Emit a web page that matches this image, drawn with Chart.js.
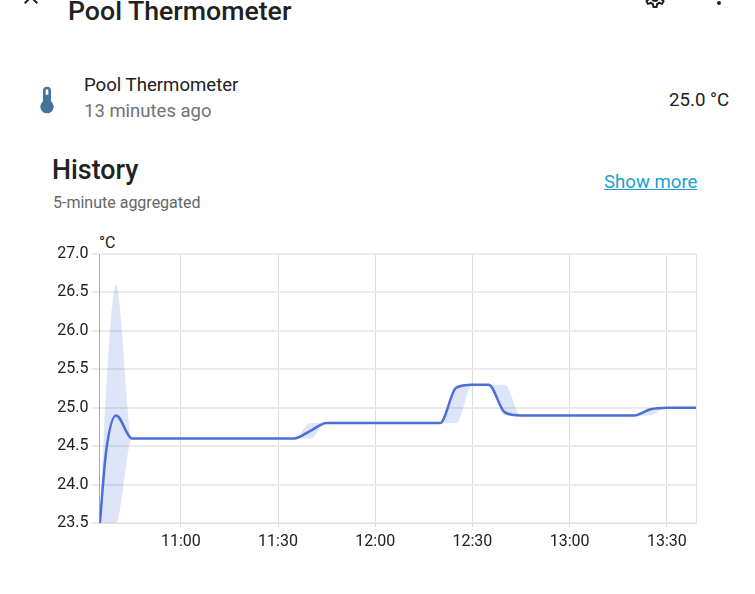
<!DOCTYPE html>
<html>
<head>
<meta charset="utf-8">
<script src="https://cdn.jsdelivr.net/npm/chart.js@4"></script>
<style>
  html, body { margin: 0; padding: 0; background: #fff; width: 755px; height: 594px; overflow: hidden; }
  body { font-family: Roboto, sans-serif; color: #212121; position: relative; }
  canvas { position: absolute; left: 0; top: 0; }
  .txt { position: absolute; white-space: nowrap; line-height: 1; }
  svg { position: absolute; }
</style>
</head>
<body>
<svg style="left:19px;top:-15px" width="24" height="24" viewBox="0 0 24 24"><path fill="#212121" d="M19,6.41L17.59,5L12,10.59L6.41,5L5,6.41L10.59,12L5,17.59L6.41,19L12,13.41L17.59,19L19,17.59L13.41,12L19,6.41Z"/></svg>
<svg style="left:643px;top:-14px" width="24" height="24" viewBox="0 0 24 24"><path fill="#212121" d="M12,8A4,4 0 0,1 16,12A4,4 0 0,1 12,16A4,4 0 0,1 8,12A4,4 0 0,1 12,8M12,10A2,2 0 0,0 10,12A2,2 0 0,0 12,14A2,2 0 0,0 14,12A2,2 0 0,0 12,10M10,22C9.75,22 9.54,21.82 9.5,21.58L9.13,18.93C8.5,18.68 7.96,18.34 7.44,17.94L4.95,18.95C4.73,19.03 4.46,18.95 4.34,18.73L2.34,15.27C2.21,15.05 2.27,14.78 2.46,14.63L4.57,12.97L4.5,12L4.57,11L2.46,9.37C2.27,9.22 2.21,8.95 2.34,8.73L4.34,5.27C4.46,5.05 4.73,4.96 4.95,5.05L7.44,6.05C7.96,5.66 8.5,5.32 9.13,5.07L9.5,2.42C9.54,2.18 9.75,2 10,2H14C14.25,2 14.46,2.18 14.5,2.42L14.87,5.07C15.5,5.32 16.04,5.66 16.56,6.05L19.05,5.05C19.27,4.96 19.54,5.05 19.66,5.27L21.66,8.73C21.79,8.95 21.73,9.22 21.54,9.37L19.43,11L19.5,12L19.43,13L21.54,14.63C21.73,14.78 21.79,15.05 21.66,15.27L19.66,18.73C19.54,18.95 19.27,19.04 19.05,18.95L16.56,17.95C16.04,18.34 15.5,18.68 14.87,18.93L14.5,21.58C14.46,21.82 14.25,22 14,22H10M11.25,4L10.88,6.61C9.68,6.86 8.62,7.5 7.85,8.39L5.44,7.35L4.69,8.65L6.8,10.2C6.4,11.37 6.4,12.64 6.8,13.8L4.68,15.36L5.43,16.66L7.86,15.62C8.63,16.5 9.68,17.14 10.87,17.38L11.24,20H12.76L13.13,17.39C14.32,17.14 15.37,16.5 16.14,15.62L18.57,16.66L19.32,15.36L17.2,13.81C17.6,12.64 17.6,11.37 17.2,10.2L19.31,8.65L18.56,7.35L16.15,8.39C15.38,7.5 14.32,6.86 13.12,6.62L12.75,4H11.25Z"/></svg>
<svg style="left:707px;top:-15px" width="24" height="24" viewBox="0 0 24 24"><path fill="#212121" d="M12,16A2,2 0 0,1 14,18A2,2 0 0,1 12,20A2,2 0 0,1 10,18A2,2 0 0,1 12,16M12,10A2,2 0 0,1 14,12A2,2 0 0,1 12,14A2,2 0 0,1 10,12A2,2 0 0,1 12,10M12,4A2,2 0 0,1 14,6A2,2 0 0,1 12,8A2,2 0 0,1 10,6A2,2 0 0,1 12,4Z"/></svg>
<svg style="left:31px;top:84px" width="32" height="32" viewBox="0 0 24 24"><path fill="#44739e" d="M15 13V5A3 3 0 0 0 9 5V13A5 5 0 1 0 15 13M12 4A1 1 0 0 1 13 5V8H11V5A1 1 0 0 1 12 4Z"/></svg>

<div class="txt" style="left:68px;top:-2px;font-size:26.7px;font-weight:500">Pool Thermometer</div>
<div class="txt" style="left:84px;top:76px;font-size:18.6px">Pool Thermometer</div>
<div class="txt" style="left:84px;top:102px;font-size:18.5px;color:#727272">13 minutes ago</div>
<div class="txt" style="left:669px;top:91px;font-size:18.7px">25.0 °C</div>
<div class="txt" style="left:52px;top:157px;font-size:26.8px;font-weight:500">History</div>
<div class="txt" style="left:53px;top:195px;font-size:16px;color:#666">5-minute aggregated</div>
<div class="txt" style="left:604px;top:173px;font-size:18.6px;color:#1a9fd0;text-decoration:underline">Show more</div>
<div class="txt" style="left:99px;top:235px;font-size:16px">°C</div>

<canvas id="history-chart" width="755" height="594"></canvas>

<script>
// 5-minute statistics (10:37 added to follow the steep first rise)
const TIMES = [
  "10:35", "10:37", "10:40", "10:45", "10:50", "10:55", "11:00", "11:05", "11:10", "11:15", "11:20",
  "11:25", "11:30", "11:35", "11:40", "11:45", "11:50", "11:55", "12:00", "12:05", "12:10",
  "12:15", "12:20", "12:25", "12:30", "12:35", "12:40", "12:45", "12:50", "12:55", "13:00",
  "13:05", "13:10", "13:15", "13:20", "13:25", "13:30", "13:35", "13:39",
];
const MEAN_VALUES = [
  23.5, 24.45, 24.9, 24.6, 24.6, 24.6, 24.6, 24.6, 24.6, 24.6, 24.6,
  24.6, 24.6, 24.6, 24.7, 24.8, 24.8, 24.8, 24.8, 24.8, 24.8,
  24.8, 24.8, 25.26, 25.3, 25.3, 24.94, 24.9, 24.9, 24.9, 24.9,
  24.9, 24.9, 24.9, 24.9, 24.98, 25.0, 25.0, 25.0,
];
const MIN_VALUES = [
  23.5, 23.5, 23.5, 24.6, 24.6, 24.6, 24.6, 24.6, 24.6, 24.6, 24.6,
  24.6, 24.6, 24.6, 24.6, 24.8, 24.8, 24.8, 24.8, 24.8, 24.8,
  24.8, 24.8, 24.8, 25.3, 25.3, 24.9, 24.9, 24.9, 24.9, 24.9,
  24.9, 24.9, 24.9, 24.9, 24.9, 25.0, 25.0, 25.0,
];
const MAX_VALUES = [
  23.5, 25.3, 26.6, 24.6, 24.6, 24.6, 24.6, 24.6, 24.6, 24.6, 24.6,
  24.6, 24.6, 24.6, 24.8, 24.8, 24.8, 24.8, 24.8, 24.8, 24.8,
  24.8, 24.8, 25.3, 25.3, 25.3, 25.3, 24.9, 24.9, 24.9, 24.9,
  24.9, 24.9, 24.9, 24.9, 25.0, 25.0, 25.0, 25.0,
];
const TICK_LABELS = ["11:00", "11:30", "12:00", "12:30", "13:00", "13:30"];

function toMinutes(label) {
  const [h, m] = label.split(":").map(Number);
  return h * 60 + m;
}

function toLabel(minutes) {
  const m = minutes % 60;
  return Math.floor(minutes / 60) + ":" + (m < 10 ? "0" + m : m);
}

function toPoints(values) {
  return values.map((v, i) => ({ x: toMinutes(TIMES[i]), y: v }));
}

const tickFont = { family: "Roboto", size: 16 };

new Chart(document.getElementById("history-chart"), {
  type: "line",
  data: {
    datasets: [
      {
        label: "Mean",
        data: toPoints(MEAN_VALUES),
        borderColor: "#4a6fd8",
        borderWidth: 2.5,
        pointRadius: 0,
        cubicInterpolationMode: "monotone",
        fill: false,
      },
      {
        label: "Max",
        data: toPoints(MAX_VALUES),
        borderWidth: 0,
        pointRadius: 0,
        cubicInterpolationMode: "monotone",
        backgroundColor: "rgba(74, 111, 216, 0.18)",
        fill: "+1",
      },
      {
        label: "Min",
        data: toPoints(MIN_VALUES),
        borderWidth: 0,
        pointRadius: 0,
        cubicInterpolationMode: "monotone",
        fill: false,
      },
    ],
  },
  options: {
    responsive: false,
    animation: false,
    layout: { padding: { left: 0, top: 254, right: 59, bottom: 0 } },
    plugins: { legend: { display: false }, tooltip: { enabled: false } },
    scales: {
      x: {
        type: "linear",
        min: 634.9,
        max: 819,
        afterFit: (scale) => { scale.height = 71; },
        afterBuildTicks: (scale) => {
          scale.ticks = TICK_LABELS.map((t) => ({ value: toMinutes(t) }));
        },
        ticks: {
          callback: (v) => toLabel(v),
          font: tickFont,
          color: "#212121",
          maxRotation: 0,
          padding: 5,
        },
        grid: { color: "#dcdcdc", lineWidth: 1, tickLength: 4 },
        border: { color: "#e0e0e0" },
      },
      y: {
        min: 23.5,
        max: 27,
        afterFit: (scale) => { scale.width = 99.5; },
        ticks: {
          stepSize: 0.5,
          callback: (v) => v.toFixed(1),
          font: tickFont,
          color: "#212121",
          padding: 3,
        },
        grid: { color: "#ebebeb", lineWidth: 2, tickLength: 8 },
        border: { color: "#aaaaaa", width: 1 },
      },
      // right edge of the plot
      y2: {
        position: "right",
        min: 23.5,
        max: 27,
        afterFit: (scale) => { scale.width = 0; },
        ticks: { display: false },
        grid: { display: false, drawTicks: false },
        border: { color: "#e0e0e0", width: 1 },
      },
    },
  },
});
</script>
</body>
</html>
